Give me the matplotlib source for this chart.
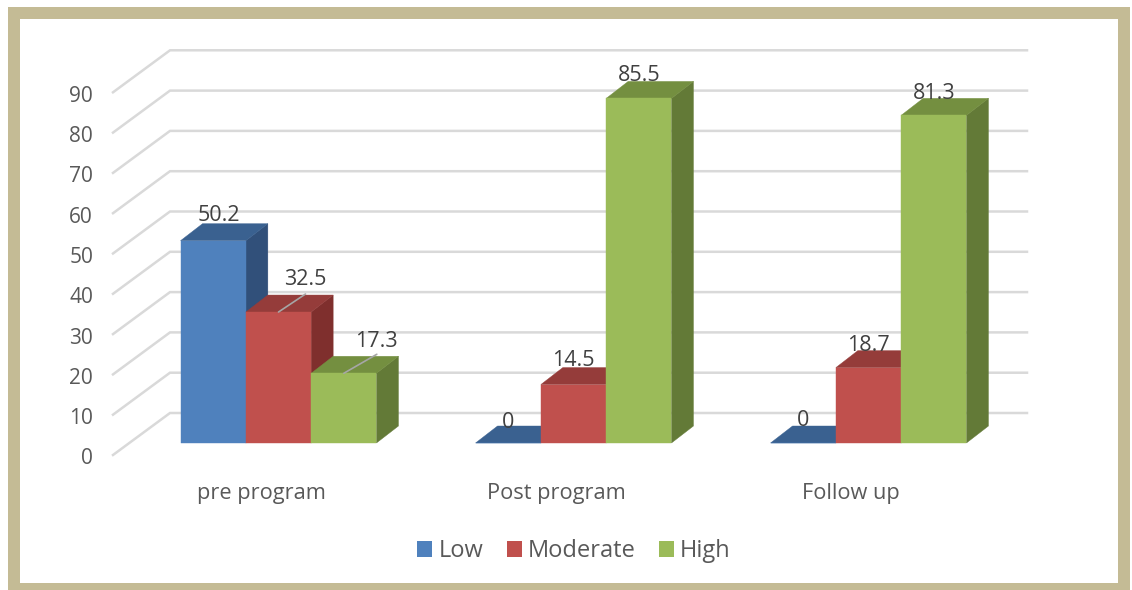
#!/usr/bin/env python3
"""Low / moderate / high levels over the three program phases, faux-3D bars."""
import matplotlib

matplotlib.use("Agg")
import matplotlib.pyplot as plt
from matplotlib.patches import Patch, Polygon, Rectangle

W, H = 1132, 590

categories = ["pre program", "Post program", "Follow up"]
series_names = ["Low", "Moderate", "High"]
low = [50.2, 0, 0]
moderate = [32.5, 14.5, 18.7]
high = [17.3, 85.5, 81.3]
y_ticks = [0, 10, 20, 30, 40, 50, 60, 70, 80, 90]

# (front, top, side) shades per series
shades = [
    ("#4F81BD", "#3A6190", "#31507A"),
    ("#C0504D", "#953C3A", "#7F2F2D"),
    ("#9BBB59", "#748F40", "#637A37"),
]

PX_X = 295.0  # pixels per category
PX_Y = 4.03  # pixels per value unit
X0_PX = 278.5  # pixel of first group centre
Y0_PX = 443.0  # pixel of value 0 on the bar plane

BAR_W = 65.3 / PX_X
DEPTH_X = 22 / PX_X
DEPTH_Y = 17 / PX_Y

# label offsets from the front top centre of each bar, pixels
label_offsets = [
    [(6, 25), (0, 21), (0, 23)],
    [(27, 33), (0, 24), (0, 22)],
    [(33, 32), (0, 23), (0, 22)],
]
# the two labels pulled away from their bars get a leader
leaders = {(1, 0): (27, 18), (2, 0): (33, 19)}


def px_x(px):
    return (px - X0_PX) / PX_X


def py_y(py):
    return (Y0_PX - py) / PX_Y


plt.rcParams["font.family"] = ["Open Sans", "DejaVu Sans"]

fig = plt.figure(figsize=(W / 100, H / 100), dpi=100, facecolor="white")
ax = fig.add_axes([0, 0, 1, 1])
ax.set_xlim(px_x(0), px_x(W))
ax.set_ylim(py_y(H), py_y(0))
ax.axis("off")

# frame
fig.add_artist(
    Rectangle(
        (14 / W, 1 - 589 / H),
        1110 / W,
        576 / H,
        transform=fig.transFigure,
        fill=False,
        edgecolor="#C4BB95",
        linewidth=12 * 0.72,
    )
)

# wall and floor grid
front_x, back_x, right_x = px_x(113), px_x(170), px_x(1027)
front_dy, back_dy = -12 / PX_Y, 30 / PX_Y
for tick in y_ticks:
    ax.plot(
        [front_x, back_x, right_x],
        [tick + front_dy, tick + back_dy, tick + back_dy],
        color="#D9D9D9",
        lw=1.8,
        solid_joinstyle="miter",
        zorder=1,
    )
    ax.annotate(
        str(tick),
        (front_x, tick + front_dy),
        xytext=(-20, -4),
        textcoords="offset pixels",
        ha="right",
        va="center",
        fontsize=15,
        color="#595959",
    )

# bars, left to right so later boxes sit over the earlier side faces
for s, values in enumerate([low, moderate, high]):
    front, top, side = shades[s]
    for c, v in enumerate(values):
        x0 = c + (s - 1.5) * BAR_W
        x1 = x0 + BAR_W
        z = 2 + c + s * 0.1
        faces = [
            (side, [(x1, 0), (x1 + DEPTH_X, DEPTH_Y), (x1 + DEPTH_X, v + DEPTH_Y), (x1, v)]),
            (top, [(x0, v), (x0 + DEPTH_X, v + DEPTH_Y), (x1 + DEPTH_X, v + DEPTH_Y), (x1, v)]),
            (front, [(x0, 0), (x0, v), (x1, v), (x1, 0)]),
        ]
        for colour, pts in faces:
            ax.add_patch(Polygon(pts, closed=True, facecolor=colour, edgecolor=colour, lw=0.3, zorder=z))

# data labels on top of everything
for s, values in enumerate([low, moderate, high]):
    for c, v in enumerate(values):
        xc = c + (s - 1) * BAR_W
        if (s, c) in leaders:
            ax.annotate(
                "",
                (xc, v),
                xytext=leaders[(s, c)],
                textcoords="offset pixels",
                arrowprops=dict(arrowstyle="-", color="#A6A6A6", lw=1.2, shrinkA=0, shrinkB=0),
                zorder=20,
            )
        ax.annotate(
            f"{v:g}",
            (xc, v),
            xytext=label_offsets[s][c],
            textcoords="offset pixels",
            ha="center",
            va="center",
            fontsize=15.5,
            color="#404040",
            zorder=21,
        )

# category labels sit left of the bar group centres
for c, name in enumerate(categories):
    ax.annotate(
        name,
        (c, 0),
        xytext=(-17.5, -50),
        textcoords="offset pixels",
        ha="center",
        va="center",
        fontsize=15.7,
        color="#595959",
    )

handles = [Patch(facecolor=shades[i][0], label=series_names[i]) for i in range(3)]
leg = ax.legend(
    handles=handles,
    loc="center",
    bbox_to_anchor=(574 / W, 1 - 551 / H),
    bbox_transform=fig.transFigure,
    ncol=3,
    frameon=False,
    fontsize=17,
    handlelength=0.64,
    handleheight=0.64,
    handletextpad=0.25,
    columnspacing=1.0,
    labelcolor="#595959",
)

fig.savefig("out.png", dpi=100)
